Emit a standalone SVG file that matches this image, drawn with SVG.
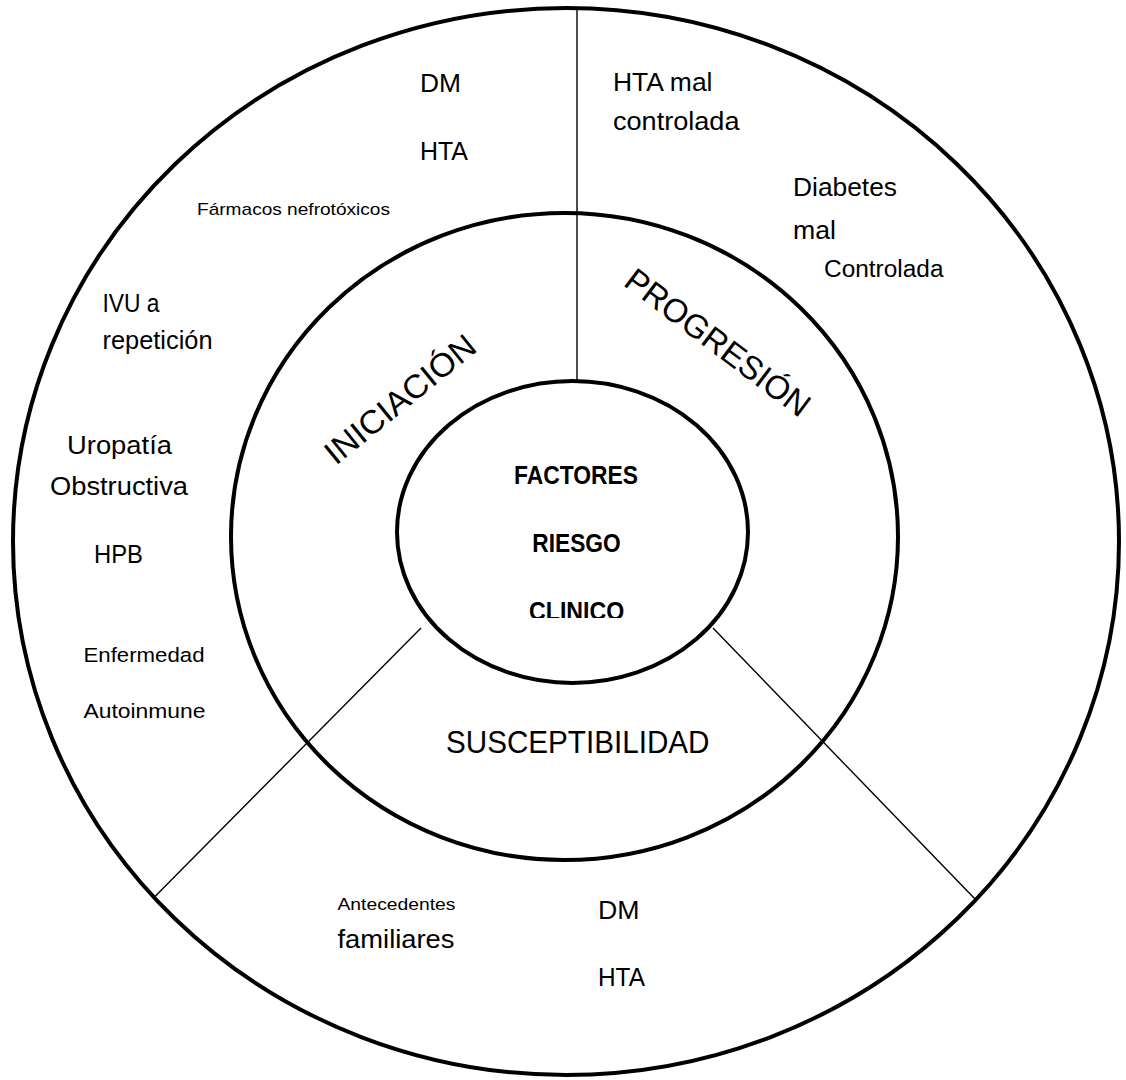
<svg xmlns="http://www.w3.org/2000/svg" width="1126" height="1080" viewBox="0 0 1126 1080">
<style>
.ring{fill:none;stroke:#000;stroke-width:4}
.div{stroke:#000;stroke-width:1.4;fill:none}
text{font-family:"Liberation Sans",Arial,sans-serif;fill:#000}
.b{font-size:26px}
.s{font-size:17px}
.m{font-size:20.5px}
.c{font-size:25px;font-weight:bold}
.t{font-size:33px}
</style>
<defs>
<clipPath id="clipClin"><rect x="450" y="590" width="250" height="28"/></clipPath>
</defs>
<rect width="1126" height="1080" fill="#fff"/>
<g id="rings">
<ellipse id="outer" class="ring" cx="566" cy="541.5" rx="553" ry="533.5"/>
<ellipse id="middle" class="ring" cx="564.5" cy="536.5" rx="333.5" ry="323.5"/>
<ellipse id="inner" class="ring" cx="572.5" cy="532" rx="175.5" ry="151"/>
</g>
<g id="connectors">
<line class="div" x1="577" y1="8" x2="577" y2="381"/>
<line class="div" x1="421" y1="628" x2="153" y2="898.5"/>
<line class="div" x1="713" y1="628" x2="975.5" y2="899.5"/>
</g>
<g id="center">
<text class="c" x="514" y="483.5" textLength="124" lengthAdjust="spacingAndGlyphs">FACTORES</text>
<text class="c" x="532.3" y="551.7" textLength="88.4" lengthAdjust="spacingAndGlyphs">RIESGO</text>
<g clip-path="url(#clipClin)"><text class="c" x="529" y="620" textLength="95.3" lengthAdjust="spacingAndGlyphs">CLINICO</text></g>
</g>
<g id="iniciacion">
<text class="t" text-anchor="middle" transform="translate(407.2 408.1) rotate(-39)" textLength="184" lengthAdjust="spacingAndGlyphs">INICIACIÓN</text>
<text class="b" x="420" y="92" textLength="41" lengthAdjust="spacingAndGlyphs">DM</text>
<text class="b" x="420" y="160" textLength="48" lengthAdjust="spacingAndGlyphs">HTA</text>
<text class="s" x="197" y="214.5" textLength="193" lengthAdjust="spacingAndGlyphs">Fármacos nefrotóxicos</text>
<text class="b" x="102.5" y="312" textLength="57" lengthAdjust="spacingAndGlyphs">IVU a</text>
<text class="b" x="102.5" y="348.5" textLength="110" lengthAdjust="spacingAndGlyphs">repetición</text>
<text class="b" x="67" y="454" textLength="105" lengthAdjust="spacingAndGlyphs">Uropatía</text>
<text class="b" x="50" y="495" textLength="138" lengthAdjust="spacingAndGlyphs">Obstructiva</text>
<text class="b" x="94" y="563" textLength="49" lengthAdjust="spacingAndGlyphs">HPB</text>
<text class="m" x="83.5" y="662" textLength="121" lengthAdjust="spacingAndGlyphs">Enfermedad</text>
<text class="m" x="83.5" y="718" textLength="122" lengthAdjust="spacingAndGlyphs">Autoinmune</text>
</g>
<g id="progresion">
<text class="t" text-anchor="middle" transform="translate(710.9 351.5) rotate(37)" textLength="222" lengthAdjust="spacingAndGlyphs">PROGRESIÓN</text>
<text class="b" x="613" y="91" textLength="99.5" lengthAdjust="spacingAndGlyphs">HTA mal</text>
<text class="b" x="613" y="130" textLength="126.5" lengthAdjust="spacingAndGlyphs">controlada</text>
<text class="b" x="793" y="196" textLength="104" lengthAdjust="spacingAndGlyphs">Diabetes</text>
<text class="b" x="793" y="239" textLength="43" lengthAdjust="spacingAndGlyphs">mal</text>
<text class="b" x="824" y="277" textLength="119.5" lengthAdjust="spacingAndGlyphs" style="font-size:23.5px">Controlada</text>
</g>
<g id="susceptibilidad">
<text x="446" y="753" style="font-size:31px" textLength="263.5" lengthAdjust="spacingAndGlyphs">SUSCEPTIBILIDAD</text>
<text class="s" x="337.5" y="909.5" textLength="118" lengthAdjust="spacingAndGlyphs">Antecedentes</text>
<text class="b" x="337.5" y="947.5" textLength="117" lengthAdjust="spacingAndGlyphs">familiares</text>
<text class="b" x="598" y="919" textLength="41.5" lengthAdjust="spacingAndGlyphs">DM</text>
<text class="b" x="598" y="986" textLength="47" lengthAdjust="spacingAndGlyphs">HTA</text>
</g>
</svg>
